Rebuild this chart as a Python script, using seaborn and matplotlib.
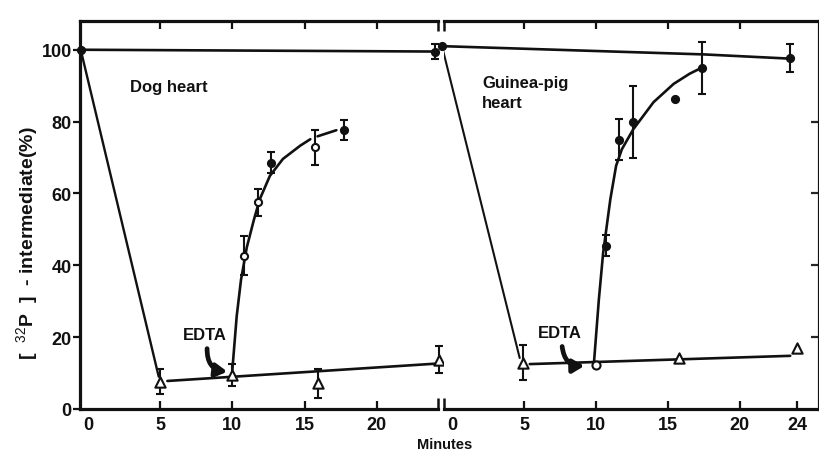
import numpy as np
import matplotlib
matplotlib.use("Agg")
import matplotlib.pyplot as plt
import seaborn as sns

sns.set_theme(style="white")
plt.rcParams["font.family"] = ["Liberation Sans", "DejaVu Sans"]
plt.rcParams["mathtext.fontset"] = "custom"
plt.rcParams["mathtext.rm"] = "Liberation Sans"
plt.rcParams["mathtext.bf"] = "Liberation Sans:bold"

# ---------------- Dog heart ----------------
dog_ctrl_t = [-0.5, 24.0]
dog_ctrl_v = [100.0, 99.5]
dog_ctrl_pt_t = [24.0]
dog_ctrl_pt_v = [99.5]
dog_ctrl_pt_err = [2.0]

dog_drop_t = [-0.5, 4.9]
dog_drop_v = [100.0, 9.0]

dog_tri_t = [5.0, 10.0, 15.9, 24.3]
dog_tri_v = [7.6, 9.5, 7.2, 13.7]
dog_tri_err = [3.5, 3.0, 4.0, 3.7]

dog_base_t = [5.5, 24.0]
dog_base_v = [7.8, 12.6]

dog_rise_t = [10.8, 11.75, 12.7, 15.7, 17.7]
dog_rise_v = [42.7, 57.5, 68.6, 72.8, 77.7]
dog_rise_err = [5.5, 3.8, 3.0, 4.8, 2.8]
dog_rise_filled = [False, False, True, False, True]

dog_curve_t = [10.0, 10.3, 10.6, 11.0, 11.5, 11.9, 12.6, 13.5, 14.7, 15.4]
dog_curve_v = [10.9, 25.8, 36.0, 45.0, 52.8, 58.4, 64.9, 69.6, 73.3, 75.1]
dog_tail_t = [15.9, 17.2]
dog_tail_v = [75.9, 77.6]

# ---------------- Guinea-pig heart ----------------
gp_ctrl_t = [-0.7, 17.5, 23.6]
gp_ctrl_v = [101.0, 98.7, 97.5]
gp_ctrl_pt_t = [23.5]
gp_ctrl_pt_v = [97.7]
gp_ctrl_pt_err = [3.8]

gp_drop_t = [-0.7, 4.7]
gp_drop_v = [101.0, 14.2]

gp_tri_t = [4.9, 15.8, 24.0]
gp_tri_v = [12.9, 14.2, 17.0]
gp_tri_err = [4.9, 0.0, 0.0]

gp_edta_t = [10.0]
gp_edta_v = [12.3]

gp_base_t = [5.4, 23.5]
gp_base_v = [12.5, 14.8]

gp_rise_t = [10.7, 11.6, 12.6, 15.5, 17.4]
gp_rise_v = [45.5, 75.0, 80.0, 86.3, 95.0]
gp_rise_err = [2.8, 5.6, 10.0, 0.0, 7.2]

gp_curve_t = [9.86, 10.2, 10.5, 11.0, 11.4, 11.8, 12.6, 14.0, 15.4, 16.5, 17.3]
gp_curve_v = [12.8, 30.4, 43.5, 58.4, 67.7, 72.3, 77.9, 85.4, 90.5, 93.3, 94.9]

x_ticks_dog = [0, 5, 10, 15, 20]
x_ticks_gp = [0, 5, 10, 15, 20, 24]
y_ticks = [0, 20, 40, 60, 80, 100]

INK = "#111111"
LW = 1.9
SPINE_LW = 2.3


def line(ax, t, v, lw=LW):
    sns.lineplot(x=t, y=v, ax=ax, color=INK, lw=lw, sort=False,
                 estimator=None, zorder=2)


def errbars(ax, t, v, err):
    t, v, err = map(np.asarray, (t, v, err))
    m = err > 0
    if m.any():
        ax.errorbar(t[m], v[m], yerr=err[m], fmt="none", ecolor=INK,
                    elinewidth=1.5, capsize=3, capthick=1.5, zorder=3,
                    clip_on=False)


def triangles(ax, t, v):
    sns.scatterplot(x=t, y=v, ax=ax, marker="^", s=55, color="white",
                    edgecolor=INK, linewidth=1.5, zorder=4, clip_on=False)


def dots(ax, t, v, filled=True, s=26):
    sns.scatterplot(x=t, y=v, ax=ax, marker="o", s=s,
                    color=INK if filled else "white",
                    edgecolor=INK, linewidth=1.5, zorder=4, clip_on=False)


fig = plt.figure(figsize=(8.2, 4.52), dpi=100)
fig.patch.set_facecolor("white")
W, H = 820.0, 452.0
bottom, top = 410.0, 22.0
ax1 = fig.add_axes([80 / W, 1 - bottom / H, (438 - 80) / W, (bottom - top) / H])
ax2 = fig.add_axes([444 / W, 1 - bottom / H, (819 - 444) / W, (bottom - top) / H])

# ---- left panel: dog heart ----
line(ax1, dog_ctrl_t, dog_ctrl_v)
line(ax1, dog_drop_t, dog_drop_v, lw=1.7)
line(ax1, dog_base_t, dog_base_v)
line(ax1, dog_curve_t, dog_curve_v)
line(ax1, dog_tail_t, dog_tail_v)
errbars(ax1, dog_tri_t, dog_tri_v, dog_tri_err)
errbars(ax1, dog_rise_t, dog_rise_v, dog_rise_err)
errbars(ax1, dog_ctrl_pt_t, dog_ctrl_pt_v, dog_ctrl_pt_err)
triangles(ax1, dog_tri_t, dog_tri_v)
rt = np.asarray(dog_rise_t)
rv = np.asarray(dog_rise_v)
rf = np.asarray(dog_rise_filled)
dots(ax1, rt[rf], rv[rf], filled=True)
dots(ax1, rt[~rf], rv[~rf], filled=False)
dots(ax1, dog_ctrl_pt_t, dog_ctrl_pt_v, filled=True)
dots(ax1, dog_drop_t[:1], dog_drop_v[:1], filled=True)

# ---- right panel: guinea-pig heart ----
line(ax2, gp_ctrl_t, gp_ctrl_v)
line(ax2, gp_drop_t, gp_drop_v, lw=1.5)
line(ax2, gp_base_t, gp_base_v)
line(ax2, gp_curve_t, gp_curve_v)
errbars(ax2, gp_tri_t, gp_tri_v, gp_tri_err)
errbars(ax2, gp_rise_t, gp_rise_v, gp_rise_err)
errbars(ax2, gp_ctrl_pt_t, gp_ctrl_pt_v, gp_ctrl_pt_err)
triangles(ax2, gp_tri_t, gp_tri_v)
dots(ax2, gp_edta_t, gp_edta_v, filled=False, s=34)
dots(ax2, gp_rise_t, gp_rise_v, filled=True)
dots(ax2, gp_ctrl_pt_t, gp_ctrl_pt_v, filled=True)
dots(ax2, gp_drop_t[:1], gp_drop_v[:1], filled=True)

# ---- axes styling ----
for ax in (ax1, ax2):
    ax.set_ylim(0, 108)
    ax.set_facecolor("white")
    ax.grid(False)
    for s in ax.spines.values():
        s.set_linewidth(SPINE_LW)
        s.set_color(INK)
    ax.tick_params(axis="x", which="major", direction="in", length=6,
                   width=1.6, top=True, bottom=True, colors=INK,
                   labelsize=13, pad=5)
    ax.set_xlabel("")
    ax.set_ylabel("")

ax1.set_xlim(-0.55, 24.24)
ax2.set_xlim(-0.56, 25.5)
ax1.set_xticks(x_ticks_dog)
ax2.set_xticks(x_ticks_gp)
for ax in (ax1, ax2):
    t0 = ax.xaxis.get_major_ticks()[0]
    t0.tick1line.set_visible(False)
    t0.tick2line.set_visible(False)
    for lab in ax.get_xticklabels():
        lab.set_fontweight("bold")
ax2.xaxis.get_major_ticks()[-1].tick2line.set_visible(False)

ax1.spines["right"].set_visible(False)
ax1.set_yticks(y_ticks)
ax1.tick_params(axis="y", direction="out", length=5, width=1.6,
                left=True, right=False, labelsize=13, pad=1, colors=INK)
for lab in ax1.get_yticklabels():
    lab.set_fontweight("bold")

ax2.spines["left"].set_visible(False)
ax2.set_yticks([20, 40, 60, 80])
ax2.tick_params(axis="y", direction="in", length=6, width=1.6,
                left=False, right=True, labelleft=False, labelright=False)

# broken-axis end marks
mk = dict(color=INK, lw=1.8, clip_on=False, solid_capstyle="butt")
ax1.plot([1, 1], [1, 0.975], transform=ax1.transAxes, **mk)
ax1.plot([1, 1], [0, 0.028], transform=ax1.transAxes, **mk)
ax2.plot([0, 0], [1, 0.975], transform=ax2.transAxes, **mk)
ax2.plot([0, 0], [0, 0.028], transform=ax2.transAxes, **mk)

# ---- text ----
ax1.text(2.9, 89.7, "Dog heart", fontsize=12, fontweight="bold",
         ha="left", va="center", color=INK)
ax2.text(2.1, 93.0, "Guinea-pig\nheart", fontsize=12, fontweight="bold",
         ha="left", va="top", color=INK, linespacing=1.45)

arrow = dict(arrowstyle="-|>,head_length=0.55,head_width=0.32", lw=3.4,
             color=INK, shrinkA=0, shrinkB=0,
             connectionstyle="arc3,rad=0.45")
ax1.text(8.1, 20.6, "EDTA", fontsize=12, fontweight="bold",
         ha="center", va="center", color=INK)
ax1.annotate("", xy=(9.65, 10.4), xytext=(8.25, 16.8), arrowprops=arrow)
ax2.text(7.5, 21.2, "EDTA", fontsize=12, fontweight="bold",
         ha="center", va="center", color=INK)
ax2.annotate("", xy=(9.2, 12.0), xytext=(7.65, 17.4), arrowprops=arrow)

ax1.set_ylabel(r"[  $^{32}$P  ]  - intermediate(%)", fontsize=14,
               fontweight="bold", color=INK)
ax1.yaxis.set_label_coords(-0.108, 0.43)

fig.text(445 / W, 1 - 445 / H, "Minutes", fontsize=10.5, fontweight="bold",
         ha="center", va="center", color=INK)

fig.savefig("out.png", dpi=100, facecolor="white")
